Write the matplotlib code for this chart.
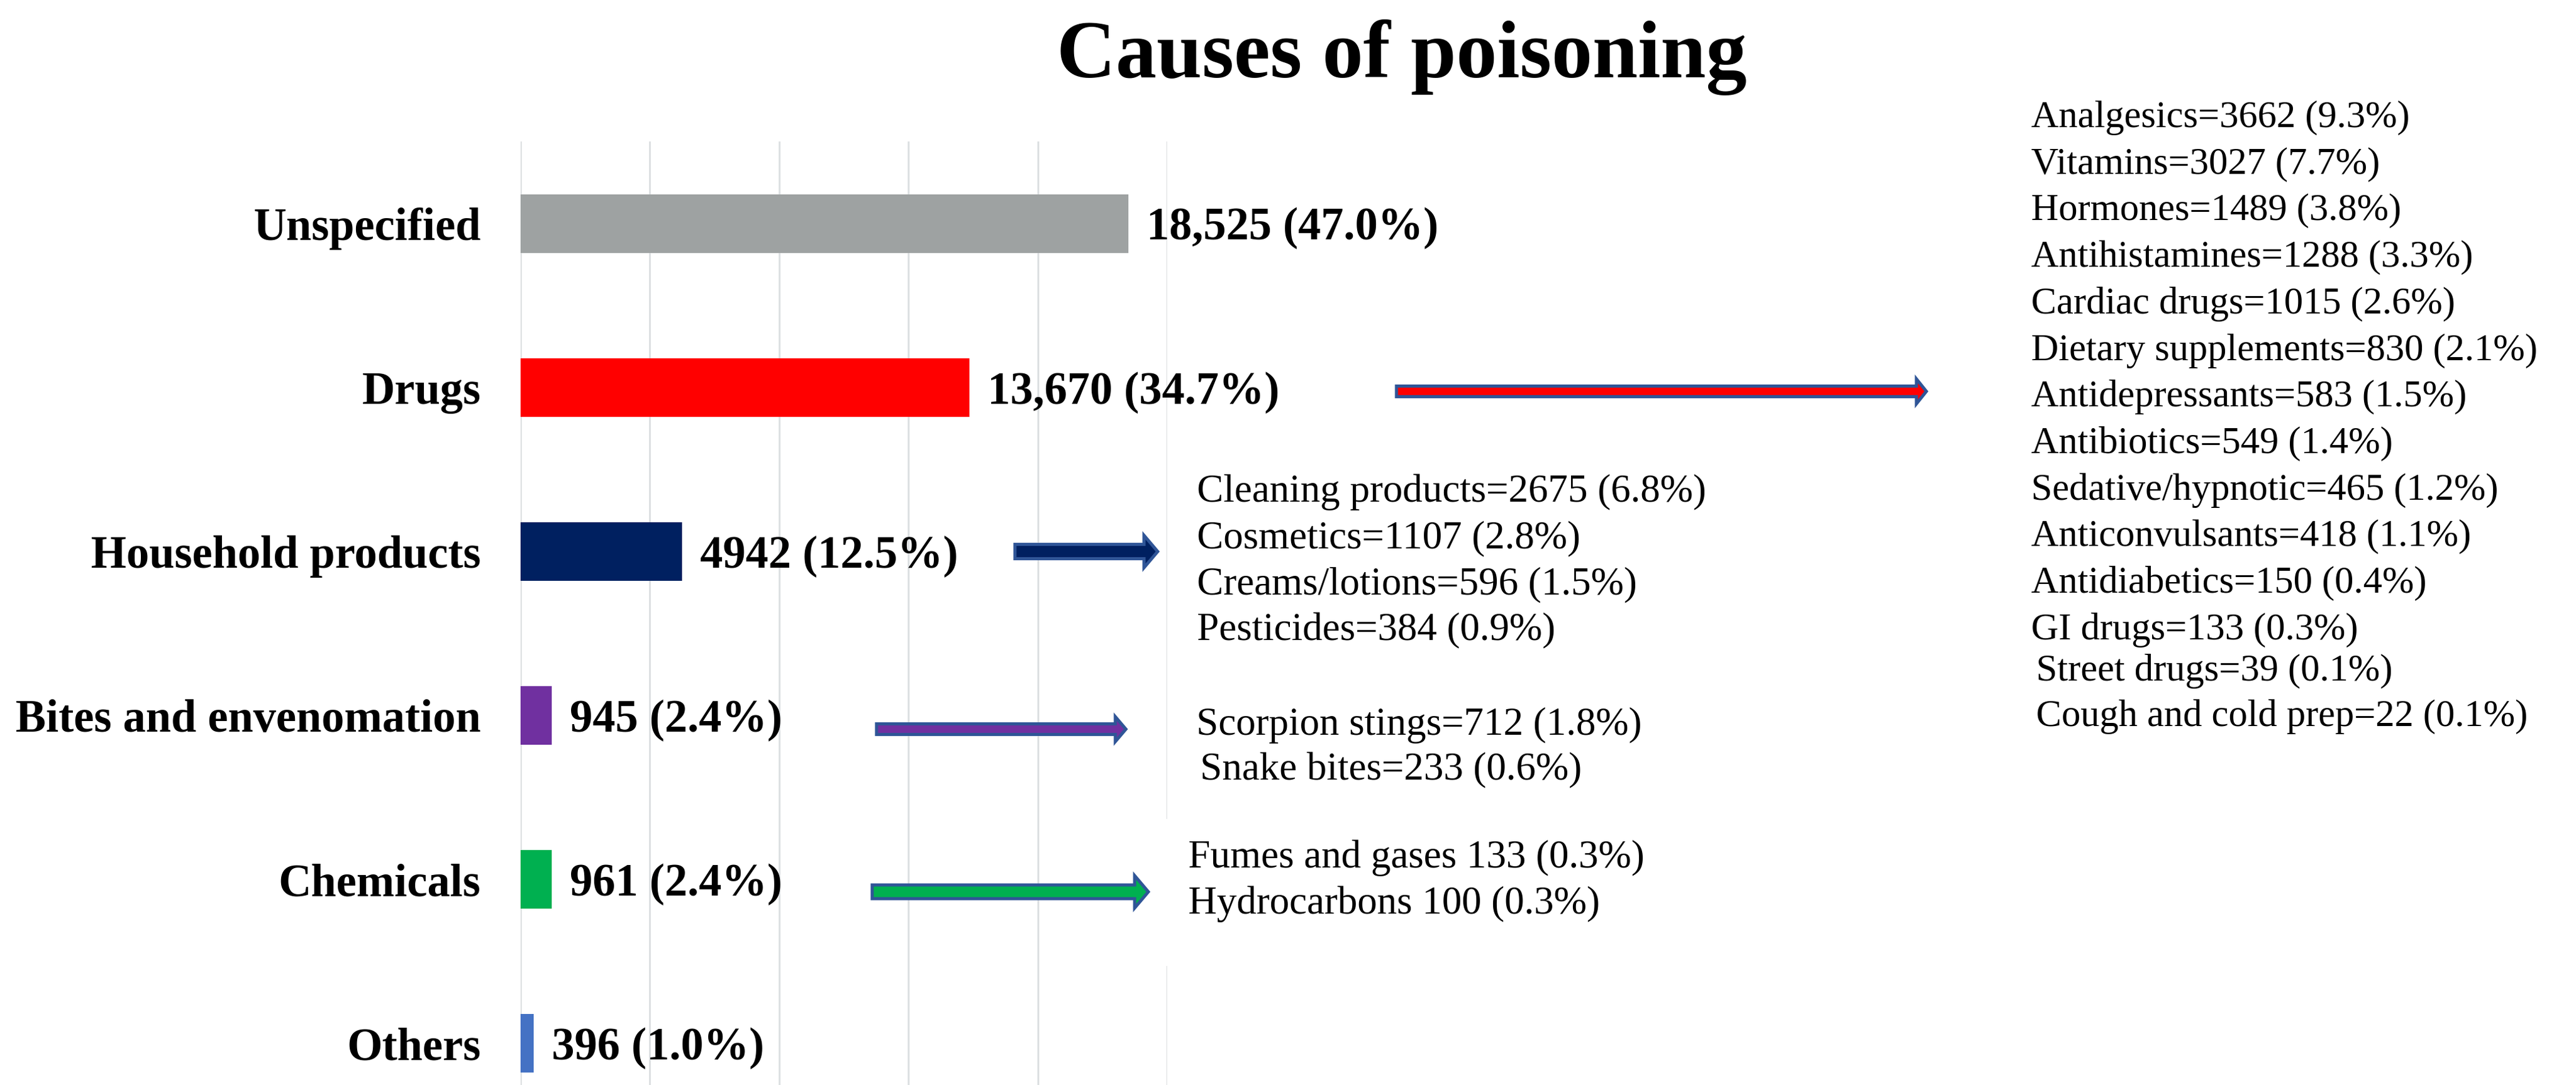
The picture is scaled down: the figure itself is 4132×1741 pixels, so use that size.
import matplotlib
matplotlib.use("Agg")
import matplotlib.pyplot as plt
from matplotlib.patches import Polygon, Rectangle

# ---------------- data ----------------
categories = ["Unspecified", "Drugs", "Household products",
              "Bites and envenomation", "Chemicals", "Others"]
counts = [18525, 13670, 4942, 945, 961, 396]
percents = [47.0, 34.7, 12.5, 2.4, 2.4, 1.0]
bar_colors = ["#9EA2A2", "#FF0000", "#002060", "#7030A0", "#00B050", "#4472C4"]

drug_items = ["Analgesics=3662 (9.3%)", "Vitamins=3027 (7.7%)", "Hormones=1489 (3.8%)",
              "Antihistamines=1288 (3.3%)", "Cardiac drugs=1015 (2.6%)",
              "Dietary supplements=830 (2.1%)", "Antidepressants=583 (1.5%)",
              "Antibiotics=549 (1.4%)", "Sedative/hypnotic=465 (1.2%)",
              "Anticonvulsants=418 (1.1%)", "Antidiabetics=150 (0.4%)",
              "GI drugs=133 (0.3%)", "Street drugs=39 (0.1%)",
              "Cough and cold prep=22 (0.1%)"]
household_items = ["Cleaning products=2675 (6.8%)", "Cosmetics=1107 (2.8%)",
                   "Creams/lotions=596 (1.5%)", "Pesticides=384 (0.9%)"]
bites_items = ["Scorpion stings=712 (1.8%)", "Snake bites=233 (0.6%)"]
chem_items = ["Fumes and gases 133 (0.3%)", "Hydrocarbons 100 (0.3%)"]
title = "Causes of poisoning"

# ---------------- figure ----------------
W, H, DPI = 4132, 1741, 100
fig = plt.figure(figsize=(W / DPI, H / DPI), dpi=DPI)
fig.patch.set_facecolor("white")
PT = 72.0 / DPI  # pixels -> points

SERIF = ["Liberation Serif", "DejaVu Serif"]

# main bar axes (pixel layout: x 835..1872, y 227..1806)
ax = fig.add_axes([835 / W, 1 - 1806 / H, (1872 - 835) / W, (1806 - 227) / H])
ypos = list(range(len(categories)))
ax.barh(ypos, percents, height=0.357, color=bar_colors, zorder=3)
ax.set_xlim(0, 50)
ax.set_ylim(len(categories) - 0.5, -0.5)
ax.set_xticks(range(0, 51, 10))
ax.set_yticks([])
ax.grid(axis="x", color="#DDE0E2", linewidth=3 * PT, zorder=0)
ax.set_axisbelow(True)
ax.tick_params(length=0, labelbottom=False, labelleft=False)
for s in ax.spines.values():
    s.set_visible(False)
ax.patch.set_alpha(0)

def fmt_count(c):
    return f"{c:,}" if c >= 10000 else str(c)

for i, (cat, c, p) in enumerate(zip(categories, counts, percents)):
    ax.annotate(cat, xy=(0, i), xytext=(-64 * PT, -26 * PT), textcoords="offset points",
                ha="right", va="baseline", fontsize=73 * PT, fontweight="bold",
                family=SERIF, annotation_clip=False)
    ax.annotate(f"{fmt_count(c)} ({p:.1f}%)", xy=(p, i), xytext=(29 * PT, -26 * PT),
                textcoords="offset points", ha="left", va="baseline",
                fontsize=73 * PT, fontweight="bold", family=SERIF, annotation_clip=False)

# overlay in pixel coordinates for title, arrows and breakdown text
ov = fig.add_axes([0, 0, 1, 1], zorder=5)
ov.set_xlim(0, W)
ov.set_ylim(H, 0)
ov.axis("off")
ov.patch.set_alpha(0)

ov.text(2248, 124, title, ha="center", va="baseline", fontsize=131 * PT,
        fontweight="bold", family=SERIF)

def arrow(x0, xb, xt, yc, hs, hh, fill):
    pts = [(x0, yc - hs), (xb, yc - hs), (xb, yc - hh), (xt, yc),
           (xb, yc + hh), (xb, yc + hs), (x0, yc + hs)]
    ov.add_patch(Polygon(pts, closed=True, facecolor=fill, edgecolor="#2F5597",
                         linewidth=5 * PT, joinstyle="miter"))

arrow(2240, 3074, 3090, 628, 8.5, 20, "#FF0000")
arrow(1628, 1835, 1857, 885, 11.5, 26, "#002060")
arrow(1406, 1789, 1806, 1170, 8.5, 20, "#7030A0")
arrow(1399, 1820, 1842, 1431, 11, 26, "#00B050")

# white text-box behind chemicals breakdown (covers gridline)
ov.add_patch(Rectangle((1866, 1314), 700, 236, facecolor="white", edgecolor="none"))

def lines(items, x, y0, step, size, offsets=None):
    for k, t in enumerate(items):
        dx, dy = (0, 0) if offsets is None else offsets[k]
        ov.text(x + dx, y0 + k * step + dy, t, ha="left", va="baseline",
                fontsize=size * PT, family=SERIF)

drug_off = [(0, 0)] * 12 + [(8, -8), (8, -10)]
lines(drug_items, 3258, 204, 74.7, 61, drug_off)
lines(household_items, 1920, 805, 74.3, 63.5)
lines(bites_items, 1919, 1179, 72, 63.5, [(0, 0), (6, 0)])
lines(chem_items, 1906, 1392, 74, 63.5)

fig.savefig("out.png", dpi=DPI, facecolor="white")
